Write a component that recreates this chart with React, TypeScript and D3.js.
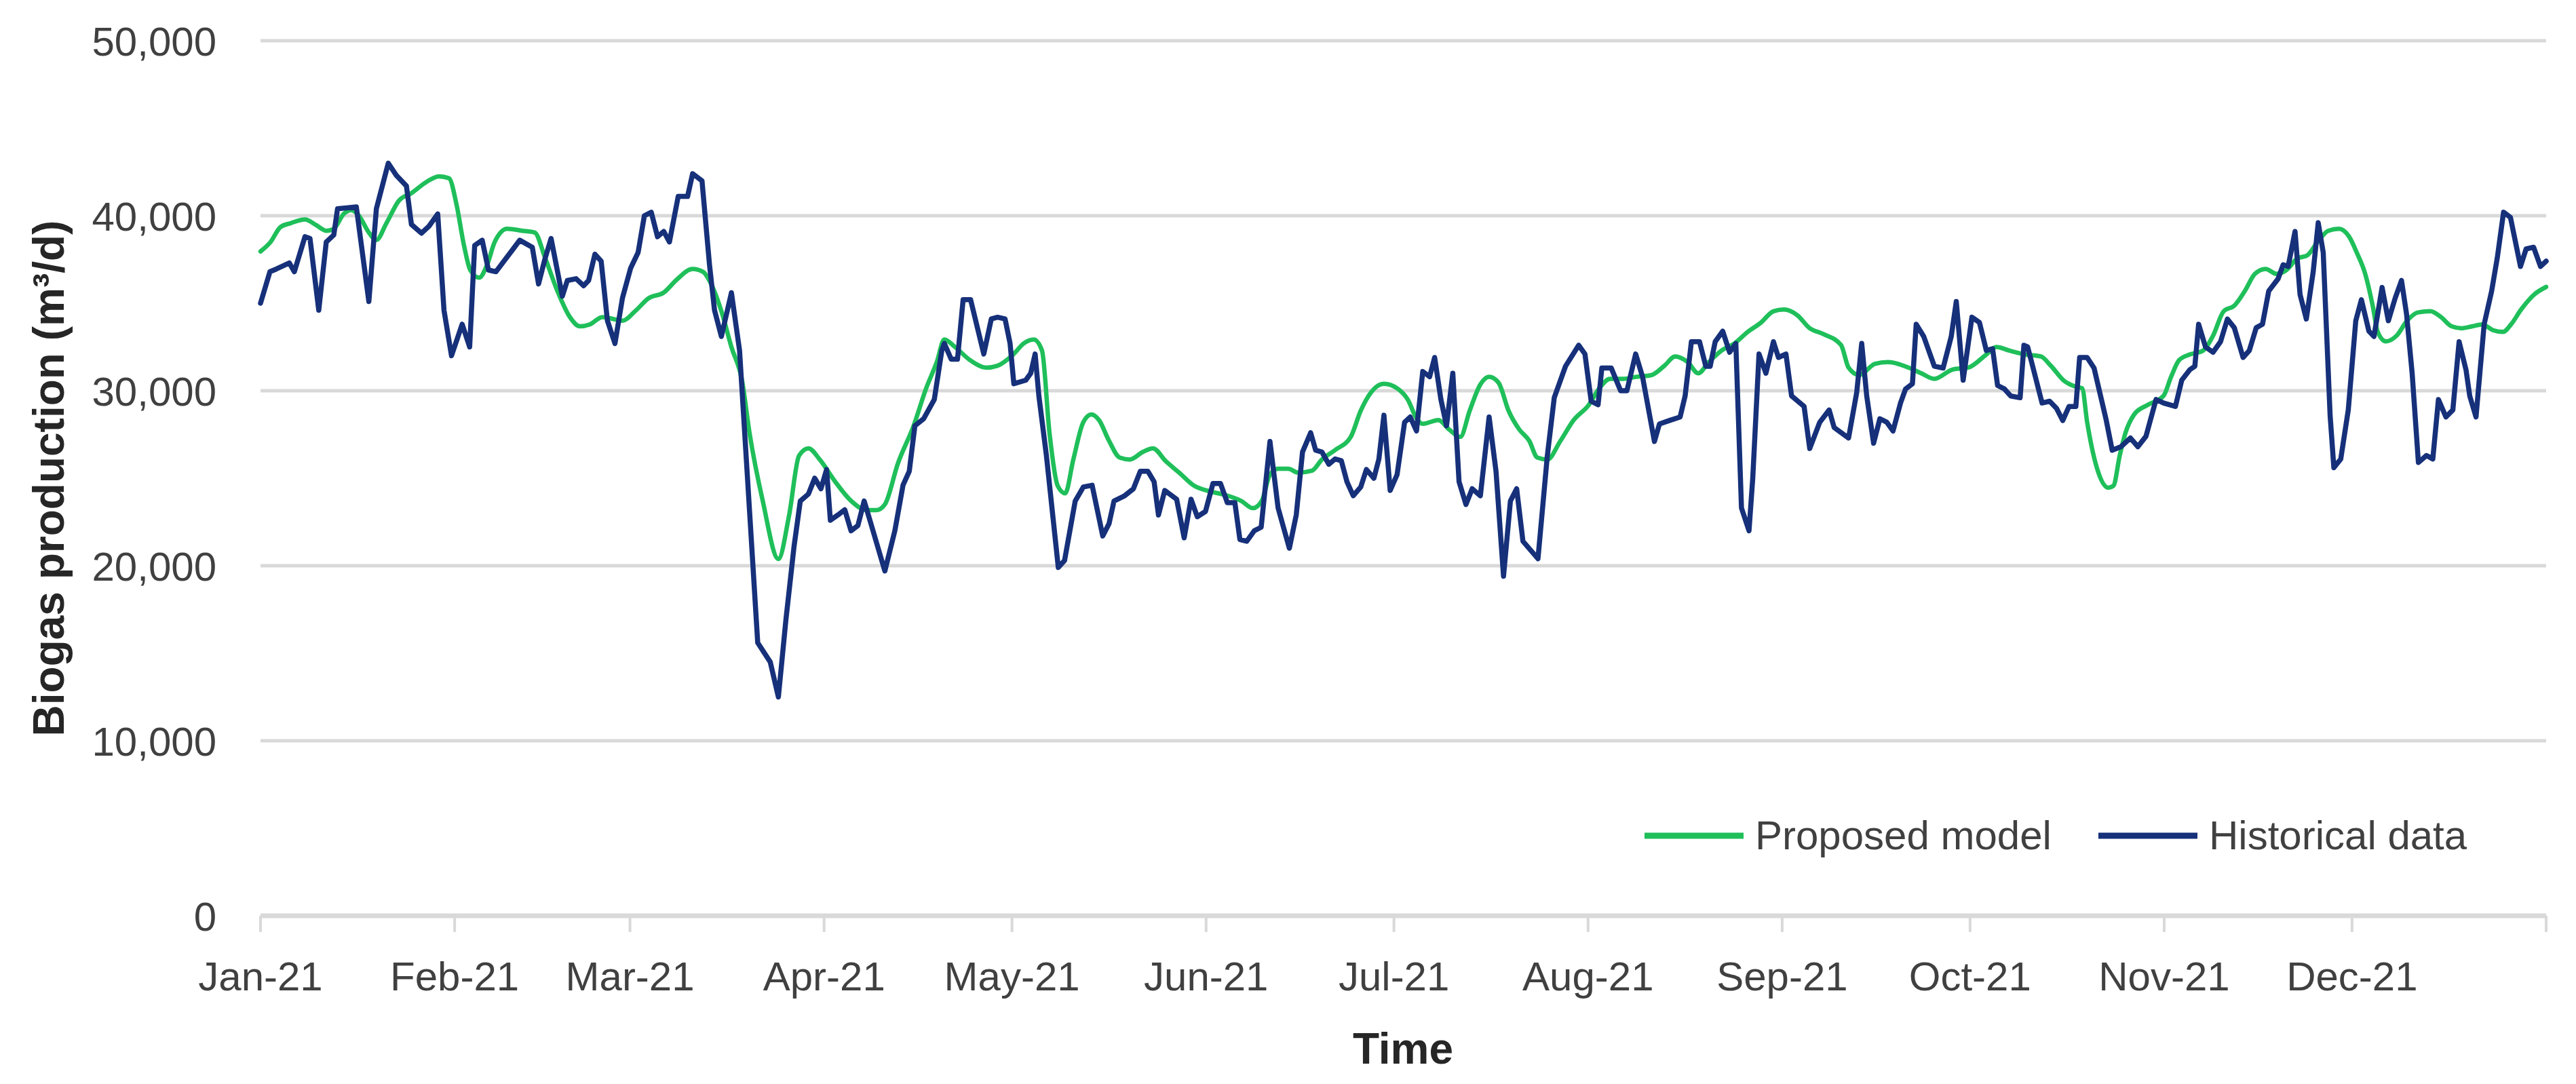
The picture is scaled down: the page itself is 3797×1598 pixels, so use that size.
import { useEffect, useRef } from "react";
import * as d3 from "d3";

const WIDTH = 3797;
const HEIGHT = 1598;

// [day of 2021, m³/d]
const historicalData: [number, number][] = [
  [0, 35000], [1.5, 36800], [2.5, 36950], [4.6, 37300], [5.4, 36800], [7.1, 38800], [7.9, 38700],
  [9.3, 34600], [10.5, 38500], [11.7, 38900], [12.3, 40400], [15.3, 40500], [17.3, 35100], [18.5, 40400],
  [20.4, 43000], [21.7, 42300], [23.3, 41700], [24.1, 39500], [25.7, 39000], [26.9, 39400], [28.3, 40100],
  [29.3, 34600], [30.5, 32000], [32.2, 33800], [33.4, 32500], [34.2, 38300], [35.4, 38600], [36.4, 36900],
  [37.6, 36800], [41.4, 38600], [43.4, 38200], [44.4, 36100], [45.4, 37500], [46.4, 38700], [48.2, 35400],
  [49.0, 36300], [50.4, 36400], [51.6, 36000], [52.4, 36300], [53.4, 37800], [54.4, 37400], [55.4, 34000],
  [56.6, 32700], [57.8, 35300], [59.1, 37000], [60.3, 37900], [61.3, 40000], [62.4, 40200], [63.4, 38800],
  [64.4, 39100], [65.3, 38500], [66.7, 41100], [68.2, 41100], [69.0, 42400], [70.5, 42000], [71.7, 37200],
  [72.5, 34600], [73.6, 33100], [75.2, 35600], [76.5, 32300], [77.7, 25400], [79.4, 15600], [81.4, 14500],
  [82.7, 12500], [83.9, 16900], [85.2, 21100], [86.2, 23700], [87.5, 24100], [88.5, 25000], [89.5, 24400],
  [90.4, 25500], [91.0, 22600], [92.2, 22900], [93.3, 23200], [94.3, 22000], [95.4, 22300], [96.4, 23700],
  [97.4, 22500], [99.7, 19700], [101.3, 22000], [102.6, 24600], [103.6, 25400], [104.5, 28000], [105.9, 28400],
  [107.6, 29500], [108.8, 32300], [109.2, 32700], [110.3, 31800], [111.3, 31800], [112.2, 35200], [113.4, 35200],
  [115.5, 32100], [116.7, 34100], [117.7, 34200], [118.9, 34100], [119.7, 32700], [120.3, 30400], [122.2, 30600],
  [123.0, 31000], [123.7, 32100], [124.3, 29700], [125.5, 26300], [127.4, 19900], [128.4, 20300], [130.1, 23700],
  [131.4, 24500], [132.8, 24600], [134.5, 21700], [135.5, 22400], [136.3, 23700], [138.0, 24000], [139.4, 24400],
  [140.5, 25400], [141.7, 25400], [142.7, 24800], [143.4, 22900], [144.4, 24300], [146.3, 23800], [147.5, 21600],
  [148.6, 23800], [149.6, 22800], [150.9, 23100], [152.1, 24700], [153.3, 24700], [154.4, 23600], [155.6, 23600],
  [156.4, 21500], [157.5, 21400], [158.7, 22000], [159.8, 22200], [161.2, 27100], [162.5, 23300], [164.3, 21000],
  [165.4, 22900], [166.4, 26500], [167.7, 27600], [168.5, 26600], [169.5, 26500], [170.6, 25800], [171.6, 26100],
  [172.6, 26000], [173.5, 24800], [174.5, 24000], [175.7, 24500], [176.6, 25500], [177.8, 25000], [178.6, 26100],
  [179.4, 28600], [180.4, 24300], [181.5, 25200], [182.7, 28200], [183.6, 28500], [184.6, 27700], [185.6, 31100],
  [186.7, 30800], [187.5, 31900], [188.5, 29500], [189.4, 28000], [190.4, 31000], [191.4, 24800], [192.5, 23500],
  [193.5, 24400], [194.8, 24000], [196.2, 28500], [197.3, 25400], [198.5, 19400], [199.6, 23700], [200.6, 24400],
  [201.6, 21400], [204.0, 20400], [205.5, 26300], [206.6, 29600], [208.4, 31400], [210.5, 32600], [211.5, 32100],
  [212.5, 29400], [213.6, 29200], [214.2, 31300], [215.7, 31300], [217.2, 30000], [218.2, 30000], [219.6, 32100],
  [220.7, 30800], [222.6, 27100], [223.4, 28100], [225.0, 28300], [226.7, 28500], [227.5, 29700], [228.5, 32800],
  [229.8, 32800], [230.8, 31400], [231.5, 31400], [232.3, 32800], [233.5, 33400], [234.6, 32200], [235.6, 32700],
  [236.5, 23300], [237.7, 22000], [238.3, 25000], [239.3, 32100], [240.4, 31000], [241.6, 32800], [242.4, 31900],
  [243.6, 32100], [244.5, 29700], [246.5, 29100], [247.4, 26700], [249.0, 28200], [250.5, 28900], [251.3, 27900],
  [253.6, 27300], [254.9, 29900], [255.7, 32700], [256.5, 29700], [257.6, 27000], [258.6, 28400], [259.7, 28200],
  [260.7, 27700], [261.9, 29300], [262.7, 30100], [263.8, 30400], [264.4, 33800], [265.6, 33100], [267.3, 31400],
  [268.7, 31300], [270.0, 33100], [270.8, 35100], [271.9, 30600], [273.3, 34200], [274.5, 33900], [275.6, 32300],
  [276.6, 32400], [277.4, 30300], [278.5, 30100], [279.5, 29700], [281.0, 29600], [281.6, 32600], [282.2, 32500],
  [283.0, 31400], [284.5, 29300], [285.7, 29400], [286.8, 29000], [287.8, 28300], [288.8, 29100], [289.9, 29100],
  [290.5, 31900], [291.7, 31900], [292.8, 31300], [294.7, 28400], [295.7, 26600], [297.1, 26800], [298.6, 27300],
  [299.8, 26800], [301.1, 27400], [302.7, 29500], [303.9, 29300], [305.8, 29100], [306.8, 30600], [308.1, 31200],
  [308.9, 31400], [309.5, 33800], [310.6, 32500], [311.8, 32200], [313.0, 32800], [314.1, 34100], [315.2, 33600],
  [316.6, 31900], [317.6, 32300], [318.7, 33600], [319.7, 33800], [320.7, 35700], [322.2, 36400], [323.0, 37200],
  [323.8, 37100], [324.9, 39100], [325.7, 35500], [326.7, 34100], [327.8, 36800], [328.6, 39600], [329.4, 37900],
  [330.5, 28600], [331.1, 25600], [332.2, 26100], [333.4, 28900], [334.6, 34000], [335.5, 35200], [336.7, 33400],
  [337.5, 33100], [338.8, 35900], [339.8, 34000], [340.9, 35300], [341.9, 36300], [342.7, 34400], [343.6, 31000],
  [344.6, 25900], [345.9, 26300], [346.9, 26100], [347.8, 29500], [349.0, 28500], [350.1, 28900], [351.1, 32800],
  [352.2, 31200], [352.8, 29700], [353.8, 28500], [355.1, 33800], [356.3, 35700], [357.2, 37600], [358.2, 40200],
  [359.3, 39900], [360.9, 37100], [361.8, 38100], [363.0, 38200], [364.1, 37100], [365.0, 37400],
];

const modelData: [number, number][] = [
  [0, 37960], [1.6, 38500], [3.2, 39360], [4.8, 39570], [7.1, 39790], [8.9, 39460], [10.5, 39140], [11.7, 39250],
  [13.3, 40110], [14.5, 40320], [15.7, 40000], [17.3, 39040], [18.5, 38610], [20.1, 39570], [22.1, 40860],
  [24.1, 41290], [26.5, 41930], [28.5, 42250], [30.1, 42140], [31.3, 40640], [32.5, 38290], [33.5, 36890],
  [34.9, 36460], [36.2, 37210], [37.4, 38500], [39.4, 39250], [41.8, 39140], [43.8, 39040], [45.4, 37640],
  [47.4, 35710], [49.4, 34210], [51.0, 33680], [52.6, 33790], [54.6, 34210], [56.2, 34110], [57.8, 34000],
  [59.8, 34540], [62.0, 35290], [64.4, 35610], [66.5, 36360], [69.0, 36960], [70.7, 36790], [71.9, 36140],
  [73.6, 34540], [75.2, 32500], [76.9, 30570], [78.1, 27570], [80.2, 23710], [82.7, 20390], [84.4, 22860],
  [86.0, 26290], [87.5, 26710], [89.3, 26070], [91.8, 24790], [94.3, 23710], [96.8, 23180], [98.4, 23180],
  [99.7, 23500], [101.8, 25860], [104.3, 28000], [106.3, 30140], [108.0, 31640], [109.2, 32930], [110.9, 32500],
  [113.3, 31750], [115.9, 31320], [117.7, 31430], [120.2, 32070], [121.9, 32710], [123.5, 32930], [124.8, 32290],
  [126.0, 27570], [127.3, 24570], [128.5, 24140], [129.8, 26070], [131.4, 28210], [132.7, 28640], [133.9, 28320],
  [135.5, 27140], [137.2, 26180], [138.8, 26070], [140.9, 26500], [142.5, 26710], [144.6, 25960], [146.7, 25320],
  [149.1, 24570], [151.6, 24250], [154.1, 24040], [156.6, 23710], [158.5, 23290], [159.9, 23710], [161.2, 25210],
  [162.5, 25540], [164.1, 25540], [165.7, 25320], [167.9, 25430], [169.5, 26070], [171.6, 26610], [174.1, 27360],
  [175.7, 28860], [177.4, 29930], [179.4, 30400], [181.5, 30140], [183.2, 29500], [184.6, 28430], [185.6, 28110],
  [188.1, 28320], [189.8, 27790], [191.6, 27360], [193.1, 28860], [194.8, 30360], [196.2, 30790], [197.7, 30460],
  [199.3, 28860], [201.0, 27790], [202.6, 27140], [203.9, 26180], [205.5, 26070], [207.6, 27140], [209.7, 28320],
  [212.1, 29180], [213.8, 30140], [215.5, 30680], [217.6, 30680], [219.6, 30790], [222.1, 30890], [224.2, 31430],
  [225.9, 31960], [227.9, 31640], [229.6, 31000], [231.3, 31640], [233.3, 32290], [235.4, 32710], [237.5, 33360],
  [239.6, 33890], [241.6, 34540], [243.3, 34640], [245.4, 34320], [247.4, 33570], [249.5, 33250], [252.4, 32610],
  [253.6, 31320], [255.3, 30890], [257.8, 31540], [259.9, 31640], [263.2, 31320], [265.2, 31000], [267.3, 30680],
  [270.2, 31210], [272.7, 31320], [275.6, 32070], [277.2, 32500], [279.3, 32290], [281.8, 32070], [284.3, 31960],
  [285.9, 31430], [288.0, 30570], [289.7, 30250], [290.9, 30140], [291.7, 28210], [293.4, 25430], [295.1, 24460],
  [295.9, 24570], [296.9, 26290], [297.8, 27570], [299.2, 28640], [301.3, 29180], [303.9, 29710], [305.1, 30790],
  [306.4, 31750], [308.1, 32070], [310.2, 32290], [311.8, 33140], [313.5, 34540], [315.2, 34860], [316.9, 35710],
  [318.5, 36680], [320.2, 36960], [321.9, 36680], [323.5, 36890], [325.2, 37540], [326.9, 37750], [328.5, 38500],
  [330.2, 39140], [331.9, 39250], [333.5, 38820], [334.8, 37860], [336.1, 36680], [337.3, 34860], [338.1, 33360],
  [339.4, 32820], [341.1, 33140], [342.8, 34000], [344.5, 34470], [346.5, 34540], [348.2, 34210], [349.9, 33680],
  [351.5, 33570], [353.2, 33680], [354.8, 33790], [356.5, 33460], [358.1, 33360], [359.4, 33790], [361.0, 34640],
  [363.1, 35500], [365.0, 35930],
];

const yTicks = [0, 10000, 20000, 30000, 40000, 50000];

const series = [
  { name: "Proposed model", color: "#1fbf5a", width: 6.5, data: modelData },
  { name: "Historical data", color: "#16307a", width: 7.5, data: historicalData },
];

const FONT = "'Liberation Sans', Arial, sans-serif";

export default function App() {
  const svgRef = useRef<SVGSVGElement>(null);

  useEffect(() => {
    if (!svgRef.current) return;
    const svg = d3.select(svgRef.current);
    svg.selectAll("*").remove();

    const start = Date.UTC(2021, 0, 1);
    const end = Date.UTC(2022, 0, 1);
    const toDate = (d: number) => new Date(start + d * 864e5);

    const x = d3.scaleUtc().domain([new Date(start), new Date(end)]).range([384, 3753]);
    const y = d3.scaleLinear().domain([0, 50000]).range([1350, 60]);

    // gridlines
    svg
      .append("g")
      .selectAll("line")
      .data(yTicks)
      .join("line")
      .attr("x1", x.range()[0])
      .attr("x2", x.range()[1])
      .attr("y1", (d) => y(d))
      .attr("y2", (d) => y(d))
      .attr("stroke", "#d9d9d9")
      .attr("stroke-width", (d) => (d === 0 ? 7 : 5));

    // y labels
    svg
      .append("g")
      .selectAll("text")
      .data(yTicks)
      .join("text")
      .attr("x", 319)
      .attr("y", (d) => y(d))
      .attr("dy", "0.36em")
      .attr("text-anchor", "end")
      .attr("font-family", FONT)
      .attr("font-size", 60)
      .attr("fill", "#404040")
      .text((d) => d3.format(",")(d));

    // month ticks
    const months = d3.utcMonth.range(new Date(start), new Date(end));
    svg
      .append("g")
      .selectAll("line")
      .data([...months, new Date(end)])
      .join("line")
      .attr("x1", (d) => x(d))
      .attr("x2", (d) => x(d))
      .attr("y1", 1350)
      .attr("y2", 1374)
      .attr("stroke", "#d9d9d9")
      .attr("stroke-width", 4);

    svg
      .append("g")
      .selectAll("text")
      .data(months)
      .join("text")
      .attr("x", (d) => x(d))
      .attr("y", 1460)
      .attr("text-anchor", "middle")
      .attr("font-family", FONT)
      .attr("font-size", 60)
      .attr("fill", "#404040")
      .text((d) => d3.utcFormat("%b-%y")(d));

    // lines
    series.forEach((s) => {
      const line = d3
        .line<[number, number]>()
        .x((d) => x(toDate(d[0])))
        .y((d) => y(d[1]))
        .curve(s.name === "Proposed model" ? d3.curveMonotoneX : d3.curveLinear);
      svg
        .append("path")
        .datum(s.data)
        .attr("d", line)
        .attr("fill", "none")
        .attr("stroke", s.color)
        .attr("stroke-width", s.width)
        .attr("stroke-linejoin", "round")
        .attr("stroke-linecap", "round");
    });

    // legend
    const legendX = [2424, 3093];
    series.forEach((s, i) => {
      const g = svg.append("g").attr("transform", `translate(${legendX[i]},1232)`);
      g.append("line")
        .attr("x1", 0)
        .attr("x2", 146)
        .attr("stroke", s.color)
        .attr("stroke-width", 9);
      g.append("text")
        .attr("x", 163)
        .attr("y", 20)
        .attr("font-family", FONT)
        .attr("font-size", 60)
        .attr("fill", "#404040")
        .text(s.name);
    });

    // axis titles
    svg
      .append("text")
      .attr("x", 2068)
      .attr("y", 1568)
      .attr("text-anchor", "middle")
      .attr("font-family", FONT)
      .attr("font-weight", "bold")
      .attr("font-size", 64)
      .attr("fill", "#262626")
      .text("Time");

    svg
      .append("text")
      .attr("transform", `translate(72,705) rotate(-90)`)
      .attr("text-anchor", "middle")
      .attr("dominant-baseline", "central")
      .attr("font-family", FONT)
      .attr("font-weight", "bold")
      .attr("font-size", 64)
      .attr("fill", "#262626")
      .text("Biogas production (m³/d)");
  }, []);

  return (
    <svg
      ref={svgRef}
      width={WIDTH}
      height={HEIGHT}
      viewBox={`0 0 ${WIDTH} ${HEIGHT}`}
      style={{ position: "absolute", left: 0, top: 0, background: "#fff", display: "block" }}
    />
  );
}
